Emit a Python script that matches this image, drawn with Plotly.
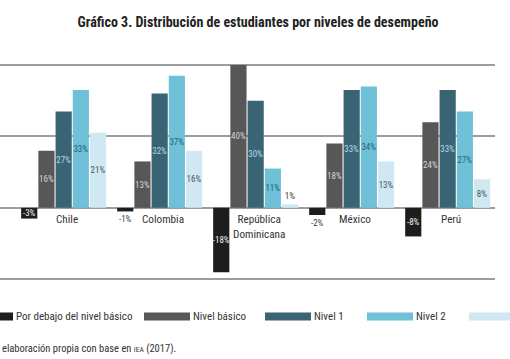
import plotly.graph_objects as go

countries = ["Chile", "Colombia", "República<br>Dominicana", "México", "Perú"]
series_names = ["Por debajo del nivel básico", "Nivel básico", "Nivel 1", "Nivel 2", "Nivel 3"]
below_basic = [-3, -1, -18, -2, -8]
nivel_basico = [16, 13, 40, 18, 24]
nivel_1 = [27, 32, 30, 33, 33]
nivel_2 = [33, 37, 11, 34, 27]
nivel_3 = [21, 16, 1, 13, 8]

series_values = [below_basic, nivel_basico, nivel_1, nivel_2, nivel_3]
colors = ["#1d1d1b", "#575756", "#3a6373", "#6fc0d9", "#cfe8f1"]
label_colors = ["#f2f2f2", "#d4d4d4", "#a9dceb", "#2d6275", "#4b5a60"]

FONT = "Liberation Sans Narrow, Roboto Condensed, DejaVu Sans Condensed, Arial Narrow, sans-serif"

fig = go.Figure()
x_idx = list(range(len(countries)))
for name, vals, c, lc in zip(series_names, series_values, colors, label_colors):
    fig.add_trace(go.Bar(
        x=x_idx, y=vals, name=name, marker=dict(color=c, line=dict(width=0)),
        text=[f"{v}%" for v in vals],
        textposition=["outside" if abs(v) < 3 else "inside" for v in vals],
        insidetextanchor="middle", textangle=0, constraintext="none",
        insidetextfont=dict(family=FONT, size=9, color=lc),
        outsidetextfont=dict(family=FONT, size=9, color="#444444"),
        cliponaxis=False, showlegend=False, hoverinfo="skip",
    ))

# category labels at the zero line
for i, c in enumerate(countries):
    fig.add_annotation(x=i, y=0, xref="x", yref="y", text=c, showarrow=False,
                       yanchor="top", yshift=-3, xshift=3,
                       font=dict(family=FONT, size=11.2, color="#333333"))

# manual legend (cropped like the reference)
W_PLOT = 495.0
H_PLOT = 240.0
def px_x(p):
    return p / W_PLOT
def px_y(p):
    return (290.0 - p) / H_PLOT

legend_pos = [(-33, 13), (144, 190), (265, 311), (367, 413), (469, 515)]
for (x0, x1), c, name in zip(legend_pos, colors, series_names):
    fig.add_shape(type="rect", xref="paper", yref="paper",
                  x0=px_x(x0), x1=px_x(x1), y0=px_y(320.5), y1=px_y(312.5),
                  fillcolor=c, line=dict(width=0))
    if x1 < 500:
        fig.add_annotation(xref="paper", yref="paper", x=px_x(x1 + 1), y=px_y(316.5),
                           text=name, showarrow=False, xanchor="left", yanchor="middle",
                           font=dict(family=FONT, size=11, color="#333333"))

fig.add_annotation(xref="paper", yref="paper", x=px_x(0), y=px_y(348),
                   text="elaboración propia con base en <span style='font-size:7.5px'>IEA</span> (2017).",
                   showarrow=False, xanchor="left", yanchor="middle",
                   font=dict(family=FONT, size=10.5, color="#333333"))

fig.update_layout(
    width=510, height=359,
    margin=dict(l=0, r=15, t=50, b=69),
    paper_bgcolor="white", plot_bgcolor="white",
    barmode="group", bargap=0.104, bargroupgap=0.06,
    title=dict(text="<b>Gráfico 3. Distribución de estudiantes por niveles de desempeño</b>",
               xref="container", x=0.506, xanchor="center",
               yref="container", y=1 - 22 / 359, yanchor="middle",
               font=dict(family=FONT, size=14, color="#222222")),
    xaxis=dict(range=[-0.663, 4.493], showticklabels=False, showgrid=False,
               zeroline=False, showline=False, ticks=""),
    yaxis=dict(range=[-23, 44.2], dtick=20, tick0=0, showticklabels=False,
               showgrid=True, gridcolor="#9d9d9d", gridwidth=1.5,
               zeroline=True, zerolinecolor="#9d9d9d", zerolinewidth=1.5,
               showline=False, ticks=""),
)

fig.write_html("out.html", config={"displayModeBar": False},
               post_script="document.body.style.margin='0';document.body.style.overflow='hidden';")
